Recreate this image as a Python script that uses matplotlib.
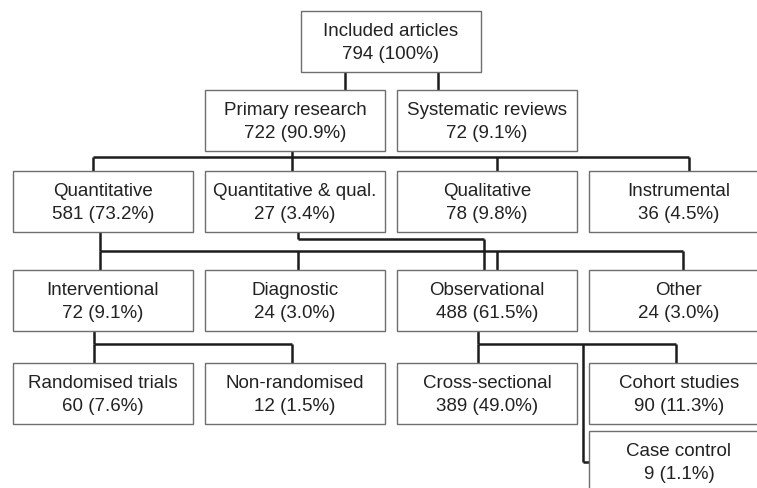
import matplotlib.pyplot as plt
from matplotlib.patches import Rectangle

# Box contents
labels = ["Included articles", "Primary research", "Systematic reviews",
          "Quantitative", "Quantitative & qual.", "Qualitative", "Instrumental",
          "Interventional", "Diagnostic", "Observational", "Other",
          "Randomised trials", "Non-randomised", "Cross-sectional",
          "Cohort studies", "Case control"]
counts = [794, 722, 72, 581, 27, 78, 36, 72, 24, 488, 24, 60, 12, 389, 90, 9]
percents = [100, 90.9, 9.1, 73.2, 3.4, 9.8, 4.5, 9.1, 3.0, 61.5, 3.0,
            7.6, 1.5, 49.0, 11.3, 1.1]

# grid position of each box (column, row)
cols = [1.5, 1, 2, 0, 1, 2, 3, 0, 1, 2, 3, 0, 1, 2, 3, 3]
rows = [0, 1, 1, 2, 2, 2, 2, 3, 3, 3, 3, 4, 4, 4, 4, 5]

# layout in pixels
W, H = 180, 61
col_left = lambda c: 13 + c * 192
row_top = [12, 91, 172, 271, 364, 432]

fig = plt.figure(figsize=(7.57, 4.89), dpi=100)
ax = fig.add_axes([0, 0, 1, 1])
ax.set_xlim(0, 757)
ax.set_ylim(489, 0)
ax.axis("off")

box_col = "#6e6e6e"
line_col = "#1c1c1c"
lw_line = 1.8


def left(i):
    return col_left(cols[i])


def top(i):
    return row_top[rows[i]]


def bottom(i):
    return row_top[rows[i]] + H


for i, lab in enumerate(labels):
    x0, y0 = left(i), top(i)
    ax.add_patch(Rectangle((x0, y0), W, H, facecolor="white",
                           edgecolor=box_col, lw=1.0, zorder=3))
    pct = "100%" if percents[i] == 100 else f"{percents[i]:.1f}%"
    ax.text(x0 + W / 2, y0 + H / 2 - 11, lab, ha="center", va="center",
            fontsize=13.5, family="Liberation Sans", color="#222222", zorder=4)
    ax.text(x0 + W / 2, y0 + H / 2 + 12, f"{counts[i]} ({pct})", ha="center",
            va="center", fontsize=13.5, family="Liberation Sans",
            color="#222222", zorder=4)


def seg(xs, ys):
    ax.plot(xs, ys, color=line_col, lw=lw_line, solid_capstyle="butt",
            solid_joinstyle="miter", zorder=2)


def tree(parent, px, children, cxs, frac):
    # parent drops at px, horizontal bus, children hang at cxs
    y1 = bottom(parent)
    y2 = top(children[0])
    yb = y1 + frac * (y2 - y1)
    seg([px, px], [y1, yb])
    xs = [px] + list(cxs)
    seg([min(xs), max(xs)], [yb, yb])
    for c, cx in zip(children, cxs):
        seg([cx, cx], [yb, top(c)])


# Included -> primary / systematic (two direct links)
seg([left(0) + 44, left(0) + 44], [bottom(0), top(1)])
seg([left(0) + 137, left(0) + 137], [bottom(0), top(2)])

# Primary research -> study types
tree(1, left(1) + 87, [3, 4, 5, 6],
     [left(3) + 80, left(4) + 87, left(5) + 100, left(6) + 100], 0.32)

# Quantitative -> designs
tree(3, left(3) + 87, [7, 8, 9, 10],
     [left(7) + 87, left(8) + 93, left(9) + 100, left(10) + 94], 0.5)

# Quantitative & qual. -> observational
yq = bottom(4) + 7
seg([left(4) + 93, left(4) + 93], [bottom(4), yq])
seg([left(4) + 93, left(9) + 87], [yq, yq])
seg([left(9) + 87, left(9) + 87], [yq, top(9)])

# Interventional -> trials
tree(7, left(7) + 81, [11, 12], [left(11) + 81, left(12) + 87], 0.4)

# Observational -> cohort types
tree(9, left(9) + 81, [13, 14], [left(13) + 81, left(14) + 87], 0.4)
xc = left(15) - 6
yb = bottom(9) + 0.4 * (top(13) - bottom(9))
seg([xc, xc], [yb, top(15) + 31])
seg([xc, left(15)], [top(15) + 31, top(15) + 31])

fig.savefig("out.png", dpi=100, facecolor="white")
